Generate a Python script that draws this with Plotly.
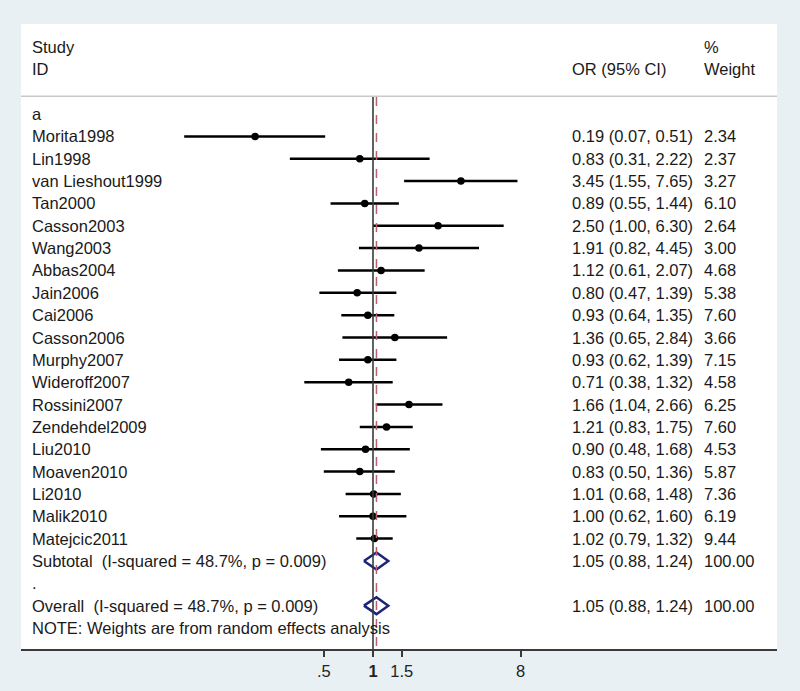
import math
import plotly.graph_objects as go

studies = ["Morita1998", "Lin1998", "van Lieshout1999", "Tan2000", "Casson2003", "Wang2003",
           "Abbas2004", "Jain2006", "Cai2006", "Casson2006", "Murphy2007", "Wideroff2007",
           "Rossini2007", "Zendehdel2009", "Liu2010", "Moaven2010", "Li2010", "Malik2010",
           "Matejcic2011"]
or_vals = [0.19, 0.83, 3.45, 0.89, 2.50, 1.91, 1.12, 0.80, 0.93, 1.36, 0.93, 0.71, 1.66, 1.21,
           0.90, 0.83, 1.01, 1.00, 1.02]
ci_low = [0.07, 0.31, 1.55, 0.55, 1.00, 0.82, 0.61, 0.47, 0.64, 0.65, 0.62, 0.38, 1.04, 0.83,
          0.48, 0.50, 0.68, 0.62, 0.79]
ci_high = [0.51, 2.22, 7.65, 1.44, 6.30, 4.45, 2.07, 1.39, 1.35, 2.84, 1.39, 1.32, 2.66, 1.75,
           1.68, 1.36, 1.48, 1.60, 1.32]
weights = [2.34, 2.37, 3.27, 6.10, 2.64, 3.00, 4.68, 5.38, 7.60, 3.66, 7.15, 4.58, 6.25, 7.60,
           4.53, 5.87, 7.36, 6.19, 9.44]

pooled_or = 1.05
pooled_low = 0.88
pooled_high = 1.24
pooled_weight = 100.00
subtotal_label = "Subtotal  (I-squared = 48.7%, p = 0.009)"
overall_label = "Overall  (I-squared = 48.7%, p = 0.009)"
note_label = "NOTE: Weights are from random effects analysis"

tick_vals = [0.5, 1, 1.5, 8]
tick_text = [".5", "<b>1</b>", "1.5", "8"]

FONT = "Liberation Sans, Arial, sans-serif"
FS = 16.5
TXT = "#1a1a1a"
BG = "#e9f0f3"

row_a = 0
study_rows = [i + 1 for i in range(len(studies))]
row_sub = len(studies) + 1
row_dot = row_sub + 1
row_overall = row_dot + 1
row_note = row_overall + 1

fig = go.Figure()

cx, cy = [], []
for r, lo, hi in zip(study_rows, ci_low, ci_high):
    cx += [lo, hi, None]
    cy += [r, r, None]
fig.add_trace(go.Scatter(x=cx, y=cy, mode="lines", line=dict(color="black", width=2.5),
                         hoverinfo="skip", showlegend=False))
fig.add_trace(go.Scatter(x=or_vals, y=study_rows, mode="markers",
                         marker=dict(color="black", size=7.5), showlegend=False))

dh = 0.38
for r in (row_sub, row_overall):
    fig.add_trace(go.Scatter(
        x=[pooled_low, pooled_or, pooled_high, pooled_or, pooled_low],
        y=[r, r - dh, r, r + dh, r], mode="lines",
        line=dict(color="#1c237a", width=2.5), showlegend=False, hoverinfo="skip"))

ymax = 23.94
ymin = -4.03

shapes = [
    dict(type="line", xref="paper", yref="y", x0=0, x1=1, y0=-0.8, y1=-0.8,
         line=dict(color="#c9c9c9", width=1.5)),
    dict(type="line", xref="x", yref="y", x0=1, x1=1, y0=-0.76, y1=ymax,
         line=dict(color="#3a3a3a", width=1.6)),
    dict(type="line", xref="x", yref="y", x0=pooled_or, x1=pooled_or, y0=-0.76, y1=ymax,
         line=dict(color="#b8606c", width=1.5, dash="dash")),
]

ann = []
def txt(xp, y, s):
    ann.append(dict(xref="paper", yref="y", x=xp, y=y, text=s, showarrow=False,
                    xanchor="left", yanchor="middle",
                    font=dict(family=FONT, size=FS, color=TXT)))

X_NAME = (30 - 21) / 756
X_OR = (570 - 21) / 756
X_W = (702 - 21) / 756

txt(X_NAME, -3, "Study")
txt(X_NAME, -2, "ID")
txt(X_OR, -2, "OR (95% CI)")
txt(X_W, -3, "%")
txt(X_W, -2, "Weight")
txt(X_NAME, row_a, "a")
for r, s, o, lo, hi, w in zip(study_rows, studies, or_vals, ci_low, ci_high, weights):
    txt(X_NAME, r, s)
    txt(X_OR, r, f"{o:.2f} ({lo:.2f}, {hi:.2f})")
    txt(X_W, r, f"{w:.2f}")
pooled_txt = f"{pooled_or:.2f} ({pooled_low:.2f}, {pooled_high:.2f})"
txt(X_NAME, row_sub, subtotal_label)
txt(X_OR, row_sub, pooled_txt)
txt(X_W, row_sub, f"{pooled_weight:.2f}")
txt(X_NAME, row_dot, ".")
txt(X_NAME, row_overall, overall_label)
txt(X_OR, row_overall, pooled_txt)
txt(X_W, row_overall, f"{pooled_weight:.2f}")
txt(X_NAME, row_note, note_label)

k = 71.0  # px per ln unit
x_lo = math.log10(math.exp((21 - 373) / k))
x_hi = math.log10(math.exp((777 - 373) / k))

fig.update_layout(
    width=800, height=691,
    margin=dict(l=21, r=23, t=24, b=42),
    paper_bgcolor=BG, plot_bgcolor="white",
    shapes=shapes, annotations=ann,
    xaxis=dict(type="log", range=[x_lo, x_hi], showgrid=False, zeroline=False,
               showline=True, linecolor="#3a3a3a", linewidth=1.6,
               ticks="outside", ticklen=6, tickwidth=1.6, tickcolor="#3a3a3a",
               tickvals=tick_vals, ticktext=tick_text,
               tickfont=dict(family=FONT, size=FS, color="#222")),
    yaxis=dict(range=[ymax, ymin], visible=False, showgrid=False, zeroline=False),
    showlegend=False,
)

fig.write_html("out.html", config={"displayModeBar": False},
               post_script="document.body.style.margin='0';"
                           "document.body.style.background='" + BG + "';")
